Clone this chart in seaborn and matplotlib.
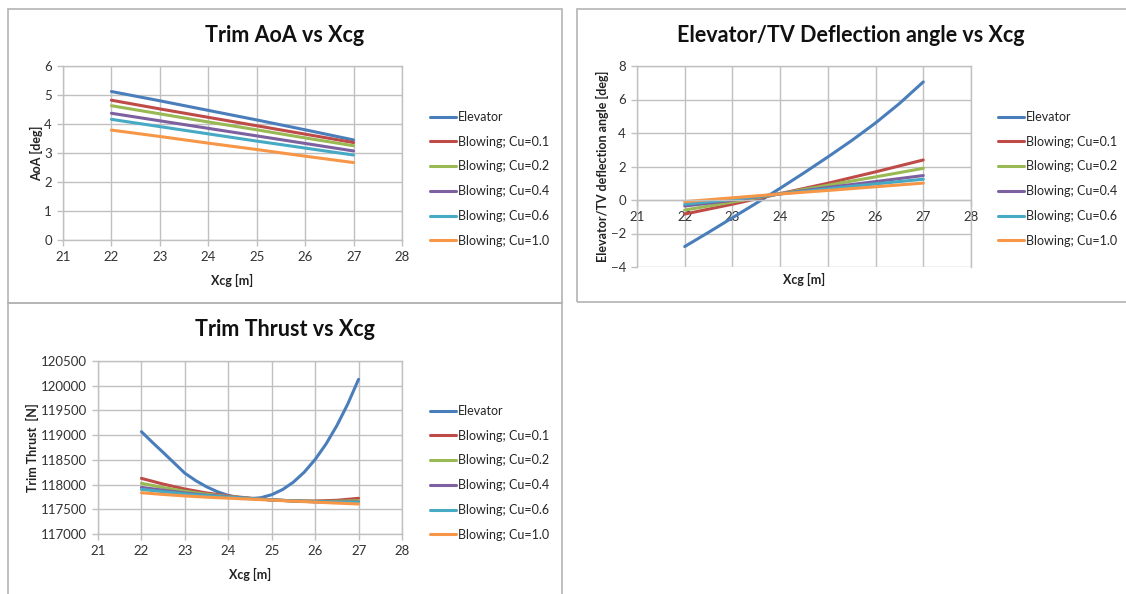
import numpy as np
import pandas as pd
import seaborn as sns
import matplotlib
matplotlib.use('Agg')
import matplotlib.pyplot as plt
from matplotlib.patches import Rectangle

sns.set_style('white')
plt.rcParams['font.family'] = ['Lato', 'DejaVu Sans']

# data
series = ['Elevator', 'Blowing; Cu=0.1', 'Blowing; Cu=0.2',
          'Blowing; Cu=0.4', 'Blowing; Cu=0.6', 'Blowing; Cu=1.0']
colors = ['#4A7EBB', '#BE4B48', '#98B954', '#7D60A0', '#46AAC5', '#F79646']

xcg = [22, 23, 24, 25, 26, 27]
xcg_half = [22, 22.5, 23, 23.5, 24, 24.5, 25, 25.5, 26, 26.5, 27]
xcg_quarter = [22, 22.25, 22.5, 22.75, 23, 23.25, 23.5, 23.75, 24, 24.25, 24.5,
               24.75, 25, 25.25, 25.5, 25.75, 26, 26.25, 26.5, 26.75, 27]

aoa_elev = [5.12, 4.80, 4.47, 4.14, 3.80, 3.45]
aoa_cu01 = [4.82, 4.52, 4.23, 3.94, 3.65, 3.36]
aoa_cu02 = [4.63, 4.35, 4.07, 3.80, 3.52, 3.25]
aoa_cu04 = [4.37, 4.11, 3.85, 3.59, 3.33, 3.07]
aoa_cu06 = [4.16, 3.91, 3.66, 3.41, 3.17, 2.93]
aoa_cu10 = [3.79, 3.57, 3.34, 3.12, 2.89, 2.67]

defl_elev = [-2.78, -1.93, -1.06, -0.19, 0.70, 1.62, 2.57, 3.55, 4.60, 5.76, 7.05]
defl_cu01 = [-0.84, -0.25, 0.38, 1.00, 1.68, 2.39]
defl_cu02 = [-0.60, -0.12, 0.38, 0.88, 1.38, 1.89]
defl_cu04 = [-0.36, -0.02, 0.37, 0.75, 1.10, 1.46]
defl_cu06 = [-0.25, 0.04, 0.36, 0.67, 0.96, 1.24]
defl_cu10 = [-0.10, 0.13, 0.36, 0.57, 0.79, 1.01]

thr_elev = [119070, 118856, 118650, 118440, 118230, 118080, 117955, 117855, 117780,
            117733, 117715, 117734, 117795, 117899, 118050, 118252, 118508, 118820,
            119193, 119628, 120130]
thr_cu01 = [118125, 118010, 117910, 117830, 117770, 117725, 117690, 117672, 117668, 117682, 117722]
thr_cu02 = [118025, 117940, 117865, 117805, 117760, 117722, 117690, 117670, 117660, 117662, 117674]
thr_cu04 = [117943, 117885, 117830, 117785, 117752, 117720, 117690, 117668, 117652, 117645, 117648]
thr_cu06 = [117903, 117855, 117812, 117775, 117745, 117717, 117690, 117668, 117652, 117643, 117640]
thr_cu10 = [117835, 117800, 117770, 117745, 117725, 117705, 117685, 117665, 117645, 117625, 117607]


def long_df(pairs):
    frames = [pd.DataFrame({'x': x, 'y': y, 'series': s}) for s, (x, y) in zip(series, pairs)]
    return pd.concat(frames, ignore_index=True)


df_aoa = long_df([(xcg, aoa_elev), (xcg, aoa_cu01), (xcg, aoa_cu02),
                  (xcg, aoa_cu04), (xcg, aoa_cu06), (xcg, aoa_cu10)])
df_defl = long_df([(xcg_half, defl_elev), (xcg, defl_cu01), (xcg, defl_cu02),
                   (xcg, defl_cu04), (xcg, defl_cu06), (xcg, defl_cu10)])
df_thr = long_df([(xcg_quarter, thr_elev), (xcg_half, thr_cu01), (xcg_half, thr_cu02),
                  (xcg_half, thr_cu04), (xcg_half, thr_cu06), (xcg_half, thr_cu10)])

W, H = 1126, 594
fig = plt.figure(figsize=(W / 100, H / 100), dpi=100)


def px_axes(l, t, r, b):
    return fig.add_axes([l / W, 1 - b / H, (r - l) / W, (b - t) / H])


def frame(l, t, r, b):
    fig.patches.append(Rectangle((l / W, 1 - b / H), (r - l) / W, (b - t) / H,
                                 transform=fig.transFigure, fill=False,
                                 edgecolor='#B4B4B4', lw=1.2))


frame(8, 9, 562, 303)
frame(577, 9, 1140, 302)
frame(8, 303, 562, 610)

grid_c = '#C0C0C0'


def style(ax, ylim, yticks, ylabel, title, tx, ty, leg_x, leg_y):
    ax.set_xlim(21, 28)
    ax.set_ylim(*ylim)
    ax.set_xticks(range(21, 29))
    ax.set_yticks(yticks)
    ax.grid(True, color=grid_c, lw=1.0)
    for s in ax.spines.values():
        s.set_color(grid_c)
        s.set_linewidth(1.0)
    ax.tick_params(axis='both', length=4, width=1, color=grid_c, labelsize=9.5,
                   labelcolor='#333333', direction='out', pad=4)
    ax.tick_params(axis='both', which='both', bottom=True, left=True)
    ax.set_xlabel('Xcg [m]', fontsize=9, fontweight='bold', color='#222222', labelpad=8)
    ax.set_ylabel(ylabel, fontsize=9, fontweight='bold', color='#222222', labelpad=1)
    fig.text(tx / W, 1 - ty / H, title, fontsize=15.5, fontweight='bold',
             ha='center', va='center', color='#111111')
    handles, labels = ax.get_legend_handles_labels()
    ax.legend(handles, labels, loc='upper left', bbox_to_anchor=(leg_x / W, 1 - leg_y / H),
              bbox_transform=fig.transFigure, frameon=False, fontsize=9,
              handlelength=2.1, handletextpad=0.15, labelspacing=1.02, borderaxespad=0)


# Trim AoA
ax1 = px_axes(63, 66, 402, 240)
sns.lineplot(data=df_aoa, x='x', y='y', hue='series', palette=colors, lw=2.2, ax=ax1)
style(ax1, (0, 6), range(0, 7), 'AoA [deg]', 'Trim AoA vs Xcg', 285, 36, 425, 106)

# Elevator/TV deflection angle
ax2 = px_axes(637, 66, 971, 267)
sns.lineplot(data=df_defl, x='x', y='y', hue='series', palette=colors, lw=2.2, ax=ax2)
style(ax2, (-4, 8), range(-4, 9, 2), 'Elevator/TV deflection angle [deg]',
      'Elevator/TV Deflection angle vs Xcg', 851, 36, 993, 106)
ax2.spines['bottom'].set_position(('data', 0))
ax2.xaxis.set_label_coords(0.5, -0.03)

# Trim Thrust
ax3 = px_axes(98, 361, 402, 534)
sns.lineplot(data=df_thr, x='x', y='y', hue='series', palette=colors, lw=2.2, ax=ax3)
style(ax3, (117000, 120500), range(117000, 120501, 500), 'Trim Thrust  [N]',
      'Trim Thrust vs Xcg', 285, 329, 425, 400)

fig.savefig('out.png', dpi=100)
